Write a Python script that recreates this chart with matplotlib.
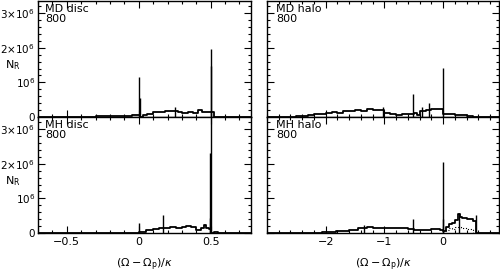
import numpy as np
import matplotlib
matplotlib.use("Agg")
from matplotlib import pyplot as plt
from matplotlib.ticker import MultipleLocator, FixedLocator

# --- data (N_R in units of 1e6) ---
# MD disc
md_disc_x = [-0.70, -0.50, -0.40, -0.30, -0.20, -0.10, -0.05, 0.00, 0.01, 0.03, 0.06, 0.10,
             0.14, 0.18, 0.22, 0.24, 0.27, 0.30, 0.34, 0.38, 0.41, 0.44, 0.47, 0.50, 0.52, 0.78]
md_disc_y = [0.0, 0.005, 0.01, 0.02, 0.03, 0.04, 0.05, 0.06, 0.0, 0.05, 0.10, 0.13,
             0.15, 0.17, 0.18, 0.16, 0.14, 0.12, 0.13, 0.11, 0.20, 0.15, 0.13, 0.14, 0.01, 0.0]
md_disc_spk_x = [0.0, 0.006, 0.25, 0.50, 0.505]
md_disc_spk_y = [1.15, 0.55, 0.30, 1.95, 1.48]

# MD halo
md_halo_x = [-3.0, -2.5, -2.3, -2.2, -2.1, -2.0, -1.9, -1.8, -1.7, -1.6, -1.5, -1.4, -1.3, -1.2,
             -1.1, -1.0, -0.9, -0.8, -0.7, -0.6, -0.5, -0.45, -0.4, -0.3, -0.2, -0.1, 0.0,
             0.1, 0.2, 0.3, 0.4, 0.5, 0.6, 0.95]
md_halo_y = [0.0, 0.02, 0.06, 0.09, 0.08, 0.12, 0.13, 0.11, 0.16, 0.17, 0.19, 0.16, 0.22, 0.20,
             0.21, 0.12, 0.08, 0.06, 0.08, 0.10, 0.12, 0.05, 0.17, 0.20, 0.24, 0.22, 0.10,
             0.08, 0.06, 0.05, 0.03, 0.01, 0.0, 0.0]
md_halo_spk_x = [-1.03, -0.51, -0.36, -0.24, 0.0]
md_halo_spk_y = [0.28, 0.65, 0.30, 0.40, 1.42]

# MH disc
mh_disc_x = [-0.70, -0.30, -0.10, 0.00, 0.01, 0.05, 0.10, 0.14, 0.18, 0.22, 0.26, 0.30, 0.33,
             0.36, 0.40, 0.43, 0.45, 0.47, 0.49, 0.50, 0.52, 0.55, 0.78]
mh_disc_y = [0.0, 0.005, 0.01, 0.02, 0.04, 0.08, 0.12, 0.13, 0.14, 0.16, 0.15, 0.17, 0.21,
             0.16, 0.10, 0.15, 0.22, 0.14, 0.12, 0.0, 0.03, 0.0, 0.0]
mh_disc_spk_x = [0.0, 0.17, 0.50, 0.497, 0.494]
mh_disc_spk_y = [0.29, 0.52, 3.4, 2.32, 0.43]

# MH halo
mh_halo_x = [-3.0, -2.07, -1.83, -1.6, -1.45, -1.3, -1.2, -1.0, -0.8, -0.6, -0.5, -0.4, -0.2,
             -0.05, 0.0, 0.05, 0.1, 0.15, 0.2, 0.25, 0.28, 0.32, 0.4, 0.5, 0.55, 0.95]
mh_halo_y = [0.0, 0.02, 0.05, 0.10, 0.13, 0.16, 0.15, 0.14, 0.15, 0.12, 0.10, 0.09, 0.11,
             0.10, 0.05, 0.18, 0.25, 0.30, 0.38, 0.55, 0.45, 0.42, 0.40, 0.35, 0.0, 0.0]
mh_halo_spk_x = [-1.35, -0.51, 0.0, 0.005, 0.27, 0.55]
mh_halo_spk_y = [0.23, 0.40, 2.06, 0.40, 0.58, 0.52]
mh_halo_dot_x = [0.0, 0.05, 0.1, 0.15, 0.2, 0.3, 0.4, 0.5]
mh_halo_dot_y = [0.05, 0.10, 0.15, 0.12, 0.18, 0.15, 0.12, 0.0]

labels = ["MD disc", "MD halo", "MH disc", "MH halo"]
snap = "800"

fig = plt.figure(figsize=(5, 2.75), dpi=100)
W, H = 500.0, 275.0
pos = {
    (0, 0): [38 / W, 1 - 117 / H, 213 / W, 116 / H],
    (0, 1): [267 / W, 1 - 117 / H, 232 / W, 116 / H],
    (1, 0): [38 / W, 1 - 233 / H, 213 / W, 116 / H],
    (1, 1): [267 / W, 1 - 233 / H, 232 / W, 116 / H],
}
data = {
    (0, 0): (md_disc_x, md_disc_y, md_disc_spk_x, md_disc_spk_y),
    (0, 1): (md_halo_x, md_halo_y, md_halo_spk_x, md_halo_spk_y),
    (1, 0): (mh_disc_x, mh_disc_y, mh_disc_spk_x, mh_disc_spk_y),
    (1, 1): (mh_halo_x, mh_halo_y, mh_halo_spk_x, mh_halo_spk_y),
}

fs = 8
for i, key in enumerate([(0, 0), (0, 1), (1, 0), (1, 1)]):
    r, c = key
    ax = fig.add_axes(pos[key])
    x, y, sx, sy = data[key]
    ax.plot(x, np.array(y) * 1e6, drawstyle="steps-post", color="k", lw=1.3)
    ax.vlines(sx, 0, np.array(sy) * 1e6, color="k", lw=1.0)
    if key == (1, 1):
        ax.plot(mh_halo_dot_x, np.array(mh_halo_dot_y) * 1e6, drawstyle="steps-post",
                color="k", lw=0.8, ls=":")
    ax.set_ylim(0, 3.35e6)
    if c == 0:
        ax.set_xlim(-0.7, 0.78)
        ax.xaxis.set_major_locator(FixedLocator([-0.5, 0, 0.5]))
        ax.xaxis.set_minor_locator(MultipleLocator(0.1))
        ax.set_xticklabels(["\u22120.5", "0", "0.5"])
        ax.set_yticks([0, 1e6, 2e6, 3e6])
        ax.set_yticklabels(["0", r"$10^6$", r"$2{\times}10^6$", r"$3{\times}10^6$"])
        ax.text(-0.12, 0.45, r"$\mathrm{N_R}$", transform=ax.transAxes,
                fontsize=fs, ha="center", va="center")
        tx = 0.035
    else:
        ax.set_xlim(-3.0, 0.95)
        ax.xaxis.set_major_locator(FixedLocator([-2, -1, 0]))
        ax.xaxis.set_minor_locator(MultipleLocator(0.2))
        ax.set_xticklabels(["\u22122", "\u22121", "0"])
        ax.set_yticks([0, 1e6, 2e6, 3e6])
        ax.set_yticklabels([])
        tx = 0.04
    ax.yaxis.set_minor_locator(MultipleLocator(2e5))
    if r == 0:
        ax.set_xticklabels([])
    else:
        ax.set_xlabel(r"$(\Omega-\Omega_{\rm p})/\kappa$", fontsize=fs, labelpad=7)
    ax.tick_params(which="both", direction="in", top=True, right=True, labelsize=fs,
                   width=0.8, pad=3)
    ax.tick_params(axis="y", labelsize=7.5, pad=2)
    ax.tick_params(which="major", length=5)
    ax.tick_params(which="minor", length=2.5)
    for s in ax.spines.values():
        s.set_linewidth(1.0)
    ax.text(tx, 0.97, labels[i] + "\n" + snap, transform=ax.transAxes,
            fontsize=fs, ha="left", va="top", linespacing=1.0)

fig.savefig("out.png", dpi=100)
